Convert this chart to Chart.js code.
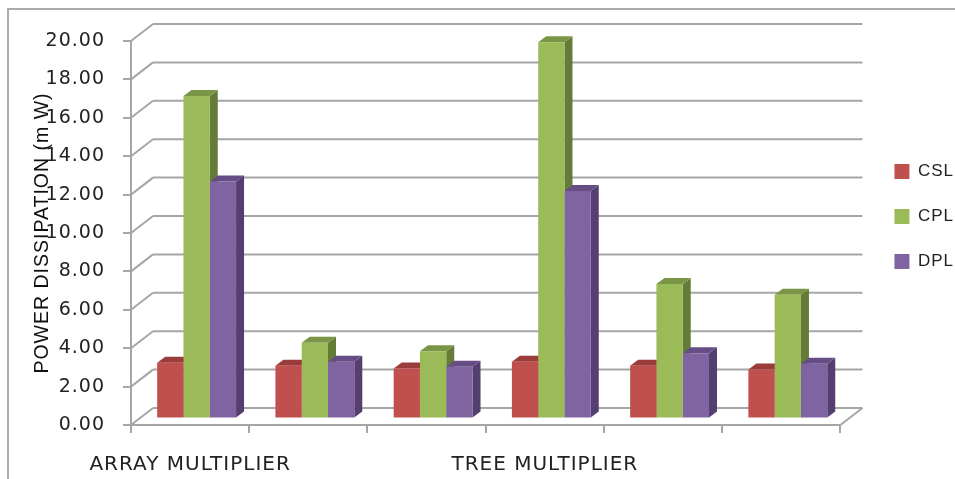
<!DOCTYPE html>
<html>
<head>
<meta charset="utf-8">
<script src="https://cdn.jsdelivr.net/npm/chart.js@4"></script>
<style>
html,body{margin:0;background:#fff;overflow:hidden}
#wrap{position:relative;width:955px;height:479px}
#frame{position:absolute;left:7px;top:8px;right:0;bottom:0;border-left:2px solid #aaa;border-top:2px solid #aaa}
canvas{position:absolute;left:0;top:0;filter:blur(.45px)}
</style>
</head>
<body>
<div id="wrap"><div id="frame"></div><canvas id="c" width="955" height="479"></canvas></div>
<script>
const categories=['ARRAY MULTIPLIER','','','TREE MULTIPLIER','',''];
const csl=[2.9,2.75,2.6,2.95,2.75,2.55];
const cpl=[16.8,3.95,3.5,19.6,7.0,6.45];
const dpl=[12.35,2.95,2.7,11.85,3.4,2.85];

const gridGray='#a6a6a6';
const wallX=22,wallY=17;   // depth of the back wall
const barX=8,barY=6;       // depth of one bar
const shiftX=6.5,shiftY=-6.5; // bars stand in the middle of the floor

const shades={
 CSL:{side:'#8f3a38',top:'#9a3d3a'},
 CPL:{side:'#657c38',top:'#7a9545'},
 DPL:{side:'#553f70',top:'#664d85'}
};

function line(ctx,x1,y1,x2,y2){ctx.beginPath();ctx.moveTo(x1,y1);ctx.lineTo(x2,y2);ctx.stroke()}
function poly(ctx,pts,color){
 ctx.fillStyle=color;ctx.beginPath();
 pts.forEach((p,i)=>i?ctx.lineTo(p[0],p[1]):ctx.moveTo(p[0],p[1]));
 ctx.closePath();ctx.fill();
}

const depth3d={
 id:'depth3d',
 afterLayout(chart){
  // legend sits right of the plot, clear of the chart area
  chart.legend.left+=26;chart.legend.right+=26;chart.legend.top=135;
 },
 beforeDraw(chart){chart.ctx.letterSpacing='1px'}, // the reference text runs wide
 beforeDatasetsDraw(chart){
  const ctx=chart.ctx,a=chart.chartArea,y=chart.scales.y;
  ctx.save();
  ctx.strokeStyle=gridGray;ctx.lineWidth=2;
  y.ticks.forEach(t=>{
   const py=y.getPixelForValue(t.value);
   line(ctx,a.left,py,a.left+wallX,py-wallY);
   line(ctx,a.left+wallX,py-wallY,a.right+wallX,py-wallY);
  });
  line(ctx,a.right,a.bottom,a.right+wallX,a.bottom-wallY);
  // bar sides and tops, the fronts come from chart.js on top of them
  chart.data.datasets.forEach((ds,i)=>{
   chart.getDatasetMeta(i).data.forEach(b=>{
    const l=b.x-b.width/2+shiftX,r=b.x+b.width/2+shiftX,t=b.y+shiftY,base=b.base+shiftY;
    poly(ctx,[[r,t],[r+barX,t-barY],[r+barX,base-barY],[r,base]],shades[ds.label].side);
    poly(ctx,[[l,t],[l+barX,t-barY],[r+barX,t-barY],[r,t]],shades[ds.label].top);
   });
  });
  ctx.translate(shiftX,shiftY);
 },
 afterDatasetsDraw(chart){chart.ctx.restore()}
};

new Chart(document.getElementById('c'),{
 type:'bar',
 data:{labels:categories,datasets:[
  {label:'CSL',data:csl,backgroundColor:'#C0504D'},
  {label:'CPL',data:cpl,backgroundColor:'#9BBB59'},
  {label:'DPL',data:dpl,backgroundColor:'#8064A2'}
 ]},
 plugins:[depth3d],
 options:{
  responsive:false,
  animation:false,
  layout:{padding:{top:41,right:20,left:0,bottom:0}},
  datasets:{bar:{categoryPercentage:0.667,barPercentage:1,clip:false}},
  plugins:{
   tooltip:{enabled:false},
   legend:{
    position:'right',align:'start',
    labels:{boxWidth:15,boxHeight:15,padding:28,color:'#222',font:{family:'"Liberation Sans"',size:17}}
   }
  },
  scales:{
   x:{
    afterFit(s){s.height=54},
    grid:{drawOnChartArea:false,color:gridGray,lineWidth:2,tickLength:8},
    border:{color:gridGray,width:2},
    ticks:{autoSkip:false,maxRotation:0,padding:20,color:'#222',font:{family:'"DejaVu Sans"',size:20}}
   },
   y:{
    min:0,max:20,
    afterFit(s){s.width=131},
    grid:{drawOnChartArea:false,color:gridGray,lineWidth:2,tickLength:8},
    border:{color:gridGray,width:2},
    ticks:{stepSize:2,padding:18,color:'#222',font:{family:'"DejaVu Sans"',size:19},callback:v=>v.toFixed(2)},
    title:{display:true,text:'POWER DISSIPATION (m W)',color:'#111',padding:{top:31,bottom:0},font:{family:'"Liberation Sans"',size:19.5}}
   }
  }
 }
});
</script>
</body>
</html>
